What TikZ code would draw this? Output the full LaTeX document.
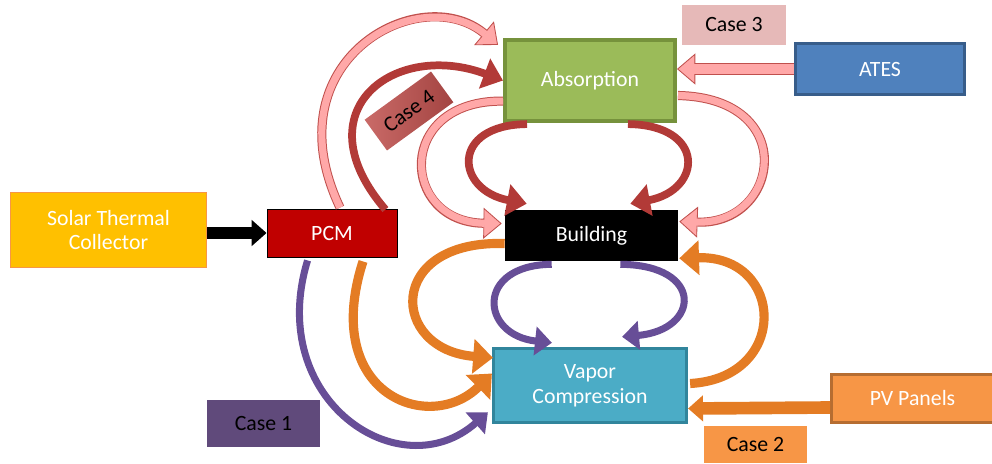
\documentclass[tikz,border=0pt]{standalone}
\usepackage{fontspec}
\setmainfont{Carlito}
\usetikzlibrary{arrows.meta,calc}
\definecolor{solarfill}{HTML}{FFC000}
\definecolor{solarline}{HTML}{F79646}
\definecolor{pcmfill}{HTML}{C00000}
\definecolor{absfill}{HTML}{9BBB59}
\definecolor{absline}{HTML}{76923C}
\definecolor{atesfill}{HTML}{4F81BD}
\definecolor{atesline}{HTML}{385D8A}
\definecolor{vapfill}{HTML}{4BACC6}
\definecolor{vapline}{HTML}{31859C}
\definecolor{pvfill}{HTML}{F79646}
\definecolor{pvline}{HTML}{B66D31}
\definecolor{caseone}{HTML}{604A7B}
\definecolor{casethree}{HTML}{E6B9B8}
\definecolor{casefour}{HTML}{C0504D}
\definecolor{pkfill}{HTML}{FFA8A8}
\definecolor{pkline}{HTML}{C0504D}
\definecolor{dred}{HTML}{B23A37}
\definecolor{orng}{HTML}{E47C24}
\definecolor{purp}{HTML}{674E97}

\begin{document}
\begin{tikzpicture}[x=0.025cm, y=-0.025cm, every node/.style={font=\fontsize{15.5}{17.7}\selectfont}]
\tikzstyle{b}=[align=center, inner sep=0pt, text=white]
\tikzstyle{c}=[inner sep=0pt, text=black]
\tikzstyle{dr}=[draw=dred, line width=5.5pt, -{Triangle[length=14pt,width=22pt]}]
\tikzstyle{og}=[draw=orng, line width=6.5pt, -{Triangle[length=14pt,width=24pt]}]
\tikzstyle{pu}=[draw=purp, line width=5pt, -{Triangle[length=12pt,width=20pt]}]
\tikzset{pk/.style={draw=pkline, line width=#1, -{Triangle[length=13pt,width=22pt,fill=pkfill,line width=0.6pt]},
  postaction={draw=pkfill, line width=#1-1.4pt, arrows=-, shorten >=12pt}}, pk/.default=6.5pt}

\useasboundingbox (0,0) rectangle (992,463);

\node[b, fill=solarfill, draw=solarline, line width=0.8pt, minimum width=4.9cm, minimum height=1.88cm] (solar) at (108.5,230) {Solar Thermal\\Collector};
\node[b, fill=pcmfill, draw=black, line width=0.6pt, minimum width=3.25cm, minimum height=1.2cm] (pcm) at (332,233) {PCM};
\node[b, fill=absfill, draw=absline, line width=2.8pt, minimum width=4.25cm, minimum height=2.03cm] (abs) at (590,80.5) {Absorption};
\node[b, fill=atesfill, draw=atesline, line width=2.4pt, minimum width=4.22cm, minimum height=1.27cm] (ates) at (880,69) {ATES};
\node[c, fill=casethree, minimum width=2.6cm, minimum height=1cm] (case3) at (734,25) {Case 3};
\node[b, fill=black, minimum width=4.325cm, minimum height=1.275cm] (bld) at (591.5,235.5) {Building};
\node[b, fill=vapfill, draw=vapline, line width=2.4pt, minimum width=4.82cm, minimum height=1.85cm] (vap) at (590,385.5) {Vapor\\Compression};
\node[b, fill=pvfill, draw=pvline, line width=2pt, minimum width=4.05cm, minimum height=1.2cm] (pv) at (912.5,398.5) {PV Panels};
\node[c, fill=pvfill, minimum width=2.575cm, minimum height=0.925cm] (case2) at (755.5,444.5) {Case 2};
\node[c, fill=caseone, minimum width=2.825cm, minimum height=1.175cm] (case1) at (263.5,423.5) {Case 1};

% feeds
\draw[black, line width=8.3pt, -{Triangle[length=10.6pt,width=18pt]}] (solar.east |- pcm.west) -- (pcm.west);
\draw[pk=9pt] (ates.west) -- (ates.west -| abs.east);
\draw[orng, line width=9pt, -{Triangle[length=10.6pt,width=18pt]}] ($(pv.west)+(0,9)$) -- ($(vap.east)+(0,23)$);

% absorption side
\draw[pk] ($(pcm.north)+(8,-1)$) .. controls (270,60) and (420,-20) .. ($(abs.north west)+(-5,7)$);
\draw[dr] ($(pcm.north east)+(-12,1)$) .. controls (300,110) and (395,40) .. (abs.west);
\draw[pk] ($(abs.south west)+(0,-22)$) .. controls (395,100) and (400,222) .. ($(bld.west)+(-3,-12)$);
\draw[dr] ($(abs.south west)+(24,1)$) .. controls (450,125) and (455,190) .. ($(bld.north west)+(22,-6)$);
\draw[dr] ($(abs.south east)+(-49,1)$) .. controls (706,125) and (703,190) .. ($(bld.north east)+(-48,-6)$);
\draw[pk] ($(abs.east)+(1,15)$) .. controls (800,98) and (780,225) .. ($(bld.east)+(1,-14)$);

% vapor compression side
\draw[og] ($(bld.west)+(0,8)$) .. controls (385,240) and (390,350) .. ($(vap.north west)+(1,11)$);
\draw[pu] ($(bld.south west)+(47,3)$) .. controls (475,265) and (480,335) .. ($(vap.north west)+(60,-4)$);
\draw[pu] ($(bld.south east)+(-58,3)$) .. controls (705,265) and (700,330) .. ($(vap.north east)+(-66,-10)$);
\draw[og] ($(vap.east)+(2,-2)$) .. controls (790,378) and (785,255) .. ($(bld.south east)+(1,-3)$);
\draw[pu] ($(pcm.south west)+(41,3)$) .. controls (265,400) and (400,490) .. ($(vap.south west)+(-4,-12)$);
\draw[og] ($(pcm.south)+(31,4)$) .. controls (320,395) and (430,435) .. ($(vap.west)+(0,-12)$);

\node[c, left color=casefour!85!white, right color=casefour!85!black, rotate=36, minimum width=2.05cm, minimum height=0.95cm] (case4) at (409,111) {Case 4};
\end{tikzpicture}
\end{document}
